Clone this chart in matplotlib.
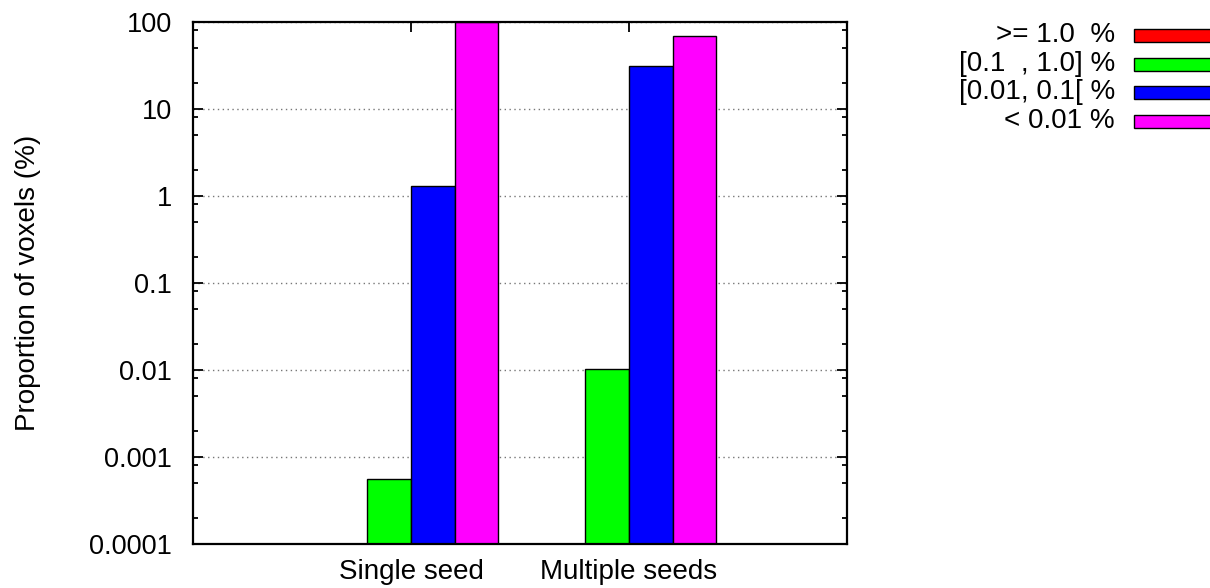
import numpy as np
import matplotlib
matplotlib.use("Agg")
import matplotlib.pyplot as plt
from matplotlib.patches import Rectangle
from matplotlib.ticker import LogLocator, FixedLocator, NullFormatter

plt.rcParams['font.family'] = ['Liberation Sans', 'DejaVu Sans']

categories = ["Single seed", "Multiple seeds"]
series_labels = [">= 1.0  %", "[0.1  , 1.0] %", "[0.01, 0.1[ %", "< 0.01 %"]
ge_1 = [0.0, 0.0]
p01_1 = [0.00056, 0.0102]
p001_01 = [1.29, 31.0]
lt_001 = [98.7, 69.0]
series_values = [ge_1, p01_1, p001_01, lt_001]
colors = ["#ff0000", "#00ff00", "#0000ff", "#ff00ff"]
ytick_labels = ["0.0001", "0.001", "0.01", "0.1", "1", "10", "100"]
ytick_values = [1e-4, 1e-3, 1e-2, 1e-1, 1, 10, 100]

W, H = 1210, 588
fig = plt.figure(figsize=(W / 100, H / 100), dpi=100)
ax = fig.add_axes([193 / W, 1 - 544 / H, (847 - 193) / W, (544 - 22) / H])

x = np.arange(len(categories))
width = 0.2
offsets = [-0.3, -0.1, 0.1, 0.3]
for vals, off, c in zip(series_values, offsets, colors):
    vals = np.asarray(vals, dtype=float)
    mask = vals > 0
    if mask.any():
        ax.bar(x[mask] + off, vals[mask], width=width, color=c,
               edgecolor='black', linewidth=1.0, zorder=2)

ax.set_yscale('log')
ax.set_ylim(1e-4, 100)
ax.set_xlim(-1, 2)
ax.yaxis.set_major_locator(FixedLocator(ytick_values))
ax.set_yticklabels(ytick_labels)
ax.yaxis.set_minor_locator(LogLocator(base=10, subs=[2, 5, 8], numticks=20))
ax.yaxis.set_minor_formatter(NullFormatter())
ax.set_xticks(x)
ax.set_xticklabels(categories)

ax.tick_params(axis='both', which='major', direction='in', length=7, width=1.3,
               top=True, right=True)
ax.tick_params(axis='y', which='major', labelsize=19.5, pad=15)
ax.tick_params(axis='x', which='major', labelsize=20, pad=11)
ax.tick_params(axis='y', which='minor', direction='in', length=3.5, width=1.3,
               right=True)
for s in ax.spines.values():
    s.set_linewidth(1.6)

ax.set_axisbelow(True)
ax.yaxis.grid(True, which='major', linestyle=(0, (1, 2.5)), color='#777777',
              linewidth=1.0)

fig.text(28 / W, 1 - 283 / H, "Proportion of voxels (%)", rotation=90,
         ha='center', va='center', fontsize=20)

# legend (gnuplot style: right-aligned text, sample box to the right)
row_y = [35, 64, 92, 121]
for lab, c, ry in zip(series_labels, colors, row_y):
    fig.text(1115 / W, 1 - ry / H, lab, ha='right', va='center', fontsize=20)
    fig.add_artist(Rectangle((1134 / W, 1 - (ry + 6.5) / H), 90 / W, 13 / H,
                             transform=fig.transFigure, facecolor=c,
                             edgecolor='black', linewidth=1.0))

fig.savefig("out.png", dpi=100)
